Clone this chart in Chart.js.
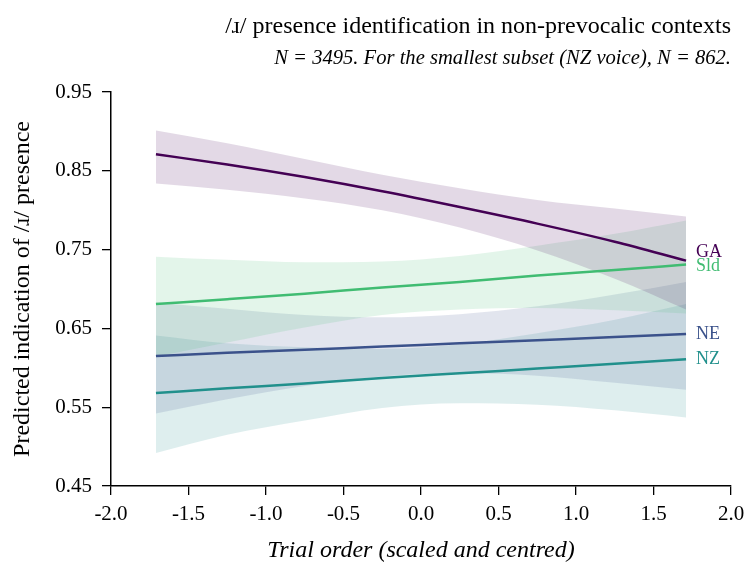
<!DOCTYPE html>
<html><head><meta charset="utf-8">
<script src="https://cdn.jsdelivr.net/npm/chart.js@4.4.1/dist/chart.umd.min.js"></script>
<style>html,body{margin:0;padding:0;background:#fff}#wrap{width:748px;height:565px;position:relative}</style>
</head><body><div id="wrap"><canvas id="c"></canvas></div>
<script>
const trialOrder = [-1.71, -1.25, -0.75, -0.25, 0.25, 0.75, 1.25, 1.71];
const xTickValues = [-2.0, -1.5, -1.0, -0.5, 0.0, 0.5, 1.0, 1.5, 2.0];
const yTickValues = [0.45, 0.55, 0.65, 0.75, 0.85, 0.95];
const voices = ['GA', 'Sld', 'NE', 'NZ'];

const gaFit   = [0.871, 0.858, 0.842, 0.824, 0.804, 0.783, 0.760, 0.736];
const gaLower = [0.834, 0.826, 0.815, 0.800, 0.778, 0.749, 0.713, 0.674];
const gaUpper = [0.901, 0.885, 0.865, 0.845, 0.828, 0.813, 0.802, 0.792];

const sldFit   = [0.681, 0.687, 0.694, 0.702, 0.709, 0.717, 0.724, 0.731];
const sldLower = [0.614, 0.632, 0.651, 0.667, 0.674, 0.676, 0.673, 0.669];
const sldUpper = [0.741, 0.737, 0.734, 0.735, 0.742, 0.755, 0.770, 0.787];

const neFit   = [0.615, 0.619, 0.623, 0.627, 0.631, 0.635, 0.639, 0.643];
const neLower = [0.542, 0.560, 0.577, 0.589, 0.593, 0.590, 0.581, 0.572];
const neUpper = [0.683, 0.675, 0.667, 0.664, 0.668, 0.678, 0.693, 0.709];

const nzFit   = [0.568, 0.574, 0.580, 0.587, 0.593, 0.599, 0.605, 0.611];
const nzLower = [0.492, 0.515, 0.533, 0.549, 0.555, 0.553, 0.546, 0.537];
const nzUpper = [0.641, 0.631, 0.626, 0.624, 0.630, 0.644, 0.661, 0.681];

const titleText = '/\u0279/ presence identification in non-prevocalic contexts';
const subtitleText = 'N = 3495. For the smallest subset (NZ voice), N = 862.';
const xTitle = 'Trial order (scaled and centred)';
const yTitle = 'Predicted indication of /\u0279/ presence';

const colors = { GA: [68, 1, 84], Sld: [64, 188, 114], NE: [59, 82, 139], NZ: [33, 144, 140] };
const series = {
  GA: [gaFit, gaLower, gaUpper],
  Sld: [sldFit, sldLower, sldUpper],
  NE: [neFit, neLower, neUpper],
  NZ: [nzFit, nzLower, nzUpper]
};
const labelNudge = { GA: -8, Sld: 2, NE: 0, NZ: 0 };
const SERIF = '"Liberation Serif", "Times New Roman", serif';

function pts(arr) { return arr.map((v, i) => ({ x: trialOrder[i], y: v })); }
function rgba(c, a) { return `rgba(${c[0]},${c[1]},${c[2]},${a})`; }

const datasets = [];
voices.forEach(v => {
  datasets.push({
    label: v, data: pts(series[v][0]), borderColor: rgba(colors[v], 1), borderWidth: 2.5,
    pointRadius: 0, fill: false, cubicInterpolationMode: 'monotone', order: 0
  });
});
voices.forEach((v, k) => {
  datasets.push({
    label: v + ' upper', data: pts(series[v][2]), borderWidth: 0, borderColor: 'rgba(0,0,0,0)',
    pointRadius: 0, fill: '+1', backgroundColor: rgba(colors[v], 0.15),
    cubicInterpolationMode: 'monotone', order: 10 + k
  });
  datasets.push({
    label: v + ' lower', data: pts(series[v][1]), borderWidth: 0, borderColor: 'rgba(0,0,0,0)',
    pointRadius: 0, fill: false, cubicInterpolationMode: 'monotone', order: 10 + k
  });
});

const textPlugin = {
  id: 'texts',
  afterDatasetsDraw(chart) {
    const ctx = chart.ctx, xs = chart.scales.x, ys = chart.scales.y;
    ctx.save();
    ctx.textBaseline = 'middle';
    ctx.textAlign = 'left';
    ctx.font = '18px ' + SERIF;
    voices.forEach(v => {
      const fit = series[v][0];
      const xp = xs.getPixelForValue(trialOrder[trialOrder.length - 1]) + 10;
      const yp = ys.getPixelForValue(fit[fit.length - 1]) + labelNudge[v];
      ctx.fillStyle = rgba(colors[v], 1);
      ctx.fillText(v, xp, yp);
    });
    ctx.restore();
  },
  afterDraw(chart) {
    const ctx = chart.ctx, ca = chart.chartArea;
    ctx.save();
    ctx.fillStyle = '#000';
    ctx.textAlign = 'right';
    ctx.textBaseline = 'alphabetic';
    ctx.font = '24px ' + SERIF;
    ctx.fillText(titleText, ca.right, 33);
    ctx.font = 'italic 20.6px ' + SERIF;
    ctx.fillText(subtitleText, ca.right, 64);
    ctx.textAlign = 'center';
    ctx.font = 'italic 24px ' + SERIF;
    ctx.fillText(xTitle, (ca.left + ca.right) / 2, 557);
    ctx.translate(29, (ca.top + ca.bottom) / 2);
    ctx.rotate(-Math.PI / 2);
    ctx.font = '24px ' + SERIF;
    ctx.fillText(yTitle, 0, 0);
    ctx.restore();
  }
};

new Chart(document.getElementById('c'), {
  type: 'line',
  data: { datasets },
  options: {
    responsive: true, maintainAspectRatio: false, animation: false,
    layout: { padding: { left: 0, right: 17, top: 92, bottom: 0 } },
    plugins: { legend: { display: false }, tooltip: { enabled: false }, filler: { propagate: false } },
    scales: {
      x: {
        type: 'linear', min: -2, max: 2,
        afterBuildTicks: s => { s.ticks = xTickValues.map(v => ({ value: v })); },
        afterFit: s => { s.height = 79; s.paddingLeft = 0; s.paddingRight = 0; },
        ticks: { callback: v => v.toFixed(1), color: '#000', font: { family: SERIF, size: 21 }, padding: 7, maxRotation: 0, autoSkip: false },
        grid: { drawOnChartArea: false, drawTicks: true, tickLength: 9, color: '#000', lineWidth: 1.3 },
        border: { display: true, color: '#000', width: 1.5 }
      },
      y: {
        type: 'linear', min: 0.45, max: 0.95,
        afterBuildTicks: s => { s.ticks = yTickValues.map(v => ({ value: v })); },
        afterFit: s => { s.width = 111; s.paddingTop = 0; s.paddingBottom = 0; },
        ticks: { callback: v => v.toFixed(2), color: '#000', font: { family: SERIF, size: 21 }, padding: 10, autoSkip: false },
        grid: { drawOnChartArea: false, drawTicks: true, tickLength: 9, color: '#000', lineWidth: 1.3 },
        border: { display: true, color: '#000', width: 1.5 }
      }
    }
  },
  plugins: [textPlugin]
});
</script>
</body></html>
